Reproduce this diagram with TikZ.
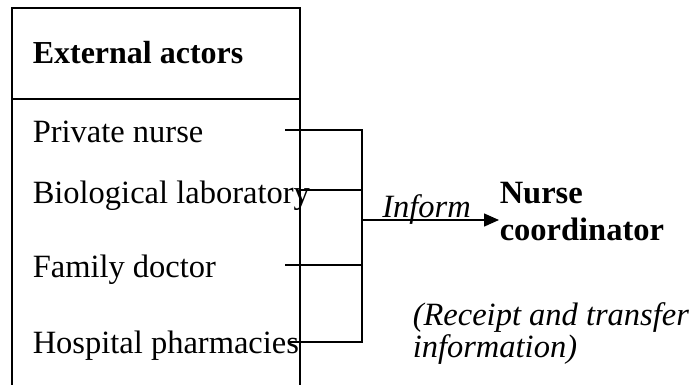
\documentclass[tikz,border=0pt]{standalone}
\usepackage{fontspec}
\setmainfont{Liberation Serif}
\usetikzlibrary{positioning}
\usetikzlibrary{arrows.meta}

\begin{document}
\begin{tikzpicture}[x=1pt,y=-1pt,line width=1.5pt,
  actor/.style={anchor=base west,inner sep=0pt,font=\fontsize{32.5}{37}\selectfont},
  lead/.style={line width=1.5pt}]
\useasboundingbox (0,0) rectangle (690,384);
% the box of external actors, open at the bottom
\draw (12,400) -- (12,8) -- (300,8) -- (300,400);
\draw (12,99) -- (300,99);
\node[actor,font=\fontsize{32}{37}\selectfont\bfseries] (title) at (32,63) {External actors};
\node[actor] (nurse) at (32,142) {Private nurse};
\node[actor] (lab) at (32,203) {Biological laboratory};
\node[actor] (doctor) at (32,277) {Family doctor};
\node[actor] (pharma) at (32,353) {Hospital pharmacies};

% where the leads start and meet
\coordinate (s1) at (285,130);
\coordinate (s2) at (300,190);
\coordinate (s3) at (285,265);
\coordinate (s4) at (290,342);
\coordinate (j1) at (362,130);
\coordinate (j2) at (362,190);
\coordinate (j3) at (362,265);
\coordinate (j4) at (362,342);
\coordinate (ja) at (362,220);

\node[actor,anchor=west,align=left,font=\fontsize{32.5}{37}\selectfont\bfseries] (coord) at (499,212) {Nurse\\coordinator};
\node[actor,anchor=north west,align=left,font=\fontsize{32.5}{32}\selectfont\itshape] (note) at (412,302) {(Receipt and transfer\\information)};

\draw[lead] (s1) -- (j1) -- (j4) -- (s4);
\draw[lead] (s2) -- (j2);
\draw[lead] (s3) -- (j3);
\draw[lead,-{Triangle[length=15pt,width=13pt]}] (ja) -- (ja -| coord.west)
  node[midway,anchor=base,inner sep=0pt,xshift=-4pt,yshift=3pt,font=\fontsize{32.5}{37}\selectfont\itshape] (inform) {Inform};
\end{tikzpicture}
\end{document}
